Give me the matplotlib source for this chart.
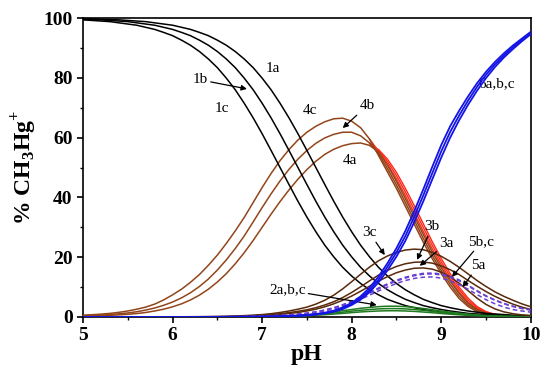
import numpy as np
import matplotlib
matplotlib.use('Agg')
import matplotlib.pyplot as plt

plt.rcParams['font.family'] = 'Liberation Serif'
plt.rcParams['mathtext.fontset'] = 'custom'
plt.rcParams['mathtext.rm'] = 'Liberation Serif'
plt.rcParams['mathtext.bf'] = 'Liberation Serif:bold'

# pH grid the curves were read at (5.0 ... 10.0, step 0.1)
ph = np.round(np.arange(5.0, 10.001, 0.1), 1)

# % values
s1a = [99.75, 99.7, 99.6, 99.5, 99.4, 99.2, 99.0, 98.8, 98.4, 98.0,
       97.6, 96.9, 96.2, 95.2, 94.1, 92.6, 90.9, 88.8, 86.3, 83.4,
       79.9, 76.0, 71.5, 66.6, 61.3, 55.7, 50.0, 44.3, 38.7, 33.4,
       28.5, 24.0, 20.1, 16.6, 13.7, 11.2, 9.1, 7.4, 5.9, 4.8,
       3.8, 3.1, 2.5, 2.0, 1.6, 1.2, 1.0, 0.8, 0.6, 0.5, 0.4]
s1b = [99.6, 99.5, 99.4, 99.2, 99.0, 98.8, 98.4, 98.0, 97.6, 96.9,
       96.2, 95.2, 94.1, 92.6, 90.9, 88.8, 86.3, 83.4, 79.9, 76.0,
       71.5, 66.6, 61.3, 55.7, 50.0, 44.3, 38.7, 33.4, 28.5, 24.0,
       20.1, 16.6, 13.7, 11.2, 9.1, 7.4, 5.9, 4.8, 3.8, 3.1,
       2.5, 2.0, 1.6, 1.2, 1.0, 0.8, 0.6, 0.5, 0.4, 0.3, 0.25]
s1c = [99.4, 99.2, 99.0, 98.8, 98.4, 98.0, 97.6, 96.9, 96.2, 95.2,
       94.1, 92.6, 90.9, 88.8, 86.3, 83.4, 79.9, 76.0, 71.5, 66.6,
       61.3, 55.7, 50.0, 44.3, 38.7, 33.4, 28.5, 24.0, 20.1, 16.6,
       13.7, 11.2, 9.1, 7.4, 5.9, 4.8, 3.8, 3.1, 2.5, 2.0,
       1.6, 1.2, 1.0, 0.8, 0.6, 0.5, 0.4, 0.3, 0.25, 0.2, 0.16]

s2a = [0, 0, 0, 0, 0, 0, 0, 0.01, 0.01, 0.01,
       0.01, 0.01, 0.01, 0.02, 0.02, 0.02, 0.03, 0.04, 0.05, 0.07,
       0.09, 0.12, 0.16, 0.23, 0.32, 0.44, 0.58, 0.75, 0.98, 1.2,
       1.45, 1.68, 1.86, 2.0, 2.08, 2.08, 2.0, 1.86, 1.65, 1.42,
       1.16, 0.93, 0.72, 0.55, 0.41, 0.29, 0.2, 0.15, 0.1, 0.07, 0.05]
s2b = [0, 0, 0, 0, 0, 0.01, 0.01, 0.01, 0.01, 0.01,
       0.01, 0.02, 0.02, 0.02, 0.02, 0.03, 0.04, 0.05, 0.07, 0.09,
       0.12, 0.16, 0.22, 0.31, 0.43, 0.58, 0.78, 1.0, 1.3, 1.6,
       1.95, 2.25, 2.5, 2.7, 2.8, 2.8, 2.7, 2.5, 2.2, 1.9,
       1.55, 1.25, 0.97, 0.74, 0.55, 0.39, 0.27, 0.2, 0.14, 0.1, 0.06]
s2c = [0, 0, 0, 0, 0, 0.01, 0.01, 0.01, 0.01, 0.02,
       0.02, 0.02, 0.02, 0.03, 0.03, 0.04, 0.05, 0.07, 0.09, 0.12,
       0.15, 0.2, 0.28, 0.4, 0.55, 0.75, 1.0, 1.3, 1.7, 2.1,
       2.5, 2.9, 3.2, 3.45, 3.6, 3.6, 3.45, 3.2, 2.85, 2.45,
       2.0, 1.6, 1.25, 0.95, 0.7, 0.5, 0.35, 0.25, 0.18, 0.12, 0.08]

s3a = [0, 0, 0, 0, 0, 0.01, 0.01, 0.02, 0.02, 0.03,
       0.03, 0.04, 0.05, 0.06, 0.07, 0.08, 0.1, 0.15, 0.22, 0.32,
       0.45, 0.62, 0.85, 1.15, 1.5, 2.0, 2.6, 3.4, 4.4, 5.6,
       7.0, 8.6, 10.3, 12.0, 13.5, 14.8, 15.7, 16.3, 16.4, 16.0,
       15.0, 13.4, 11.3, 8.8, 6.3, 4.2, 2.7, 1.7, 1.1, 0.7, 0.5]
s3b = [0, 0, 0, 0, 0.01, 0.01, 0.02, 0.02, 0.03, 0.04,
       0.05, 0.06, 0.07, 0.08, 0.09, 0.1, 0.15, 0.2, 0.3, 0.45,
       0.6, 0.8, 1.1, 1.45, 1.9, 2.4, 3.1, 4.0, 5.1, 6.5,
       8.2, 10.1, 12.1, 14.0, 15.6, 16.9, 17.8, 18.3, 18.4, 18.0,
       17.1, 15.8, 14.2, 12.2, 10.3, 8.5, 6.9, 5.5, 4.3, 3.3, 2.5]
s3c = [0, 0, 0, 0.01, 0.01, 0.02, 0.02, 0.03, 0.04, 0.05,
       0.06, 0.07, 0.08, 0.1, 0.12, 0.15, 0.2, 0.3, 0.45, 0.6,
       0.8, 1.1, 1.5, 2.0, 2.6, 3.3, 4.3, 5.6, 7.3, 9.4,
       11.8, 14.3, 16.7, 18.8, 20.4, 21.6, 22.4, 22.7, 22.5, 21.6,
       20.3, 18.6, 16.6, 14.4, 12.2, 10.2, 8.4, 6.9, 5.6, 4.4, 3.4]

s4a = [0.3, 0.36, 0.45, 0.56, 0.7, 0.9, 1.15, 1.5, 2.0, 2.6,
       3.4, 4.4, 5.7, 7.3, 9.3, 11.7, 14.5, 17.8, 21.5, 25.6,
       30.0, 34.4, 38.6, 42.5, 46.1, 49.3, 52.1, 54.4, 56.1, 57.3,
       58.0, 58.2, 57.4, 55.2, 50.7, 45.4, 39.6, 33.6, 27.6, 21.8,
       16.5, 12.0, 7.9, 4.6, 2.5, 1.3, 0.7, 0.4, 0.25, 0.15, 0.1]
s4b = [0.4, 0.5, 0.65, 0.8, 1.05, 1.35, 1.75, 2.3, 3.0, 3.9,
       5.0, 6.4, 8.1, 10.2, 12.7, 15.7, 19.1, 22.9, 27.1, 31.8,
       36.6, 41.2, 45.5, 49.4, 52.8, 55.7, 58.1, 59.9, 61.1, 61.8,
       61.8, 60.6, 58.2, 54.6, 49.6, 44.2, 38.3, 32.3, 26.3, 20.6,
       15.5, 11.0, 7.0, 4.0, 2.1, 1.1, 0.6, 0.35, 0.2, 0.12, 0.1]
s4c = [0.6, 0.75, 0.95, 1.2, 1.55, 2.0, 2.6, 3.3, 4.3, 5.7,
       7.4, 9.3, 11.6, 14.2, 17.3, 20.7, 24.6, 28.8, 33.3, 38.3,
       43.3, 48.0, 52.3, 56.0, 59.2, 61.8, 63.8, 65.3, 66.3, 66.5,
       65.5, 63.3, 59.5, 54.0, 48.5, 43.0, 37.0, 31.0, 25.0, 19.5,
       14.5, 10.0, 6.2, 3.5, 1.8, 0.9, 0.5, 0.3, 0.2, 0.1, 0.1]

# red curves on the falling side (pH 8.2 ... 10.0)
r4a = [57.4, 56.0, 52.8, 48.4, 43.0, 37.2, 31.2, 25.2, 19.6, 14.5,
       10.0, 6.3, 3.5, 1.8, 0.9, 0.5, 0.3, 0.15, 0.1]
r4b = [58.2, 55.8, 52.0, 47.3, 41.8, 35.9, 29.9, 24.0, 18.5, 13.5,
       9.2, 5.6, 3.1, 1.6, 0.8, 0.45, 0.25, 0.15, 0.1]
r4c = [59.5, 55.5, 51.2, 46.2, 40.6, 34.6, 28.6, 22.8, 17.5, 12.6,
       8.4, 5.0, 2.7, 1.4, 0.7, 0.4, 0.2, 0.15, 0.1]

s5a = [0, 0, 0, 0, 0, 0.01, 0.01, 0.01, 0.01, 0.02,
       0.02, 0.03, 0.03, 0.04, 0.04, 0.04, 0.06, 0.08, 0.12, 0.17,
       0.24, 0.33, 0.45, 0.6, 0.82, 1.1, 1.5, 2.0, 2.7, 3.6,
       4.7, 5.9, 7.3, 8.7, 10.0, 11.2, 12.2, 12.9, 13.3, 13.4,
       13.0, 12.1, 10.8, 9.3, 7.5, 5.8, 4.4, 3.3, 2.5, 2.0, 1.6]
s5b = [0, 0, 0, 0, 0, 0.01, 0.01, 0.01, 0.02, 0.02,
       0.03, 0.03, 0.04, 0.04, 0.05, 0.05, 0.07, 0.1, 0.13, 0.19,
       0.27, 0.36, 0.5, 0.67, 0.9, 1.24, 1.67, 2.25, 3.0, 3.95,
       5.1, 6.5, 7.95, 9.4, 10.8, 12.0, 13.0, 13.8, 14.3, 14.4,
       14.1, 13.3, 12.1, 10.4, 8.6, 6.95, 5.6, 4.4, 3.5, 2.8, 2.3]
s5c = [0, 0, 0, 0, 0, 0.01, 0.01, 0.01, 0.02, 0.02,
       0.03, 0.03, 0.04, 0.04, 0.05, 0.05, 0.07, 0.1, 0.14, 0.2,
       0.28, 0.38, 0.52, 0.7, 0.95, 1.3, 1.75, 2.35, 3.1, 4.1,
       5.3, 6.7, 8.2, 9.7, 11.1, 12.3, 13.3, 14.1, 14.6, 14.7,
       14.4, 13.6, 12.4, 10.6, 8.8, 7.1, 5.7, 4.5, 3.6, 2.9, 2.4]

s6a = [0, 0, 0, 0, 0, 0, 0, 0, 0, 0,
       0.01, 0.01, 0.01, 0.02, 0.02, 0.03, 0.04, 0.05, 0.06, 0.07,
       0.08, 0.11, 0.17, 0.25, 0.37, 0.55, 0.82, 1.2, 1.75, 2.65,
       4.0, 5.8, 8.3, 11.6, 15.6, 20.2, 25.5, 31.8, 38.7, 46.0,
       53.3, 60.0, 65.8, 71.0, 75.7, 79.9, 83.6, 86.8, 89.6, 92.2, 94.6]
s6b = [0, 0, 0, 0, 0, 0, 0, 0, 0, 0,
       0.01, 0.01, 0.01, 0.02, 0.02, 0.03, 0.04, 0.05, 0.06, 0.07,
       0.09, 0.13, 0.19, 0.28, 0.4, 0.6, 0.9, 1.3, 1.9, 2.9,
       4.3, 6.3, 9.0, 12.5, 16.8, 21.6, 27.1, 33.6, 40.7, 48.1,
       55.4, 61.9, 67.4, 72.4, 77.0, 81.0, 84.5, 87.5, 90.2, 92.7, 95.0]
s6c = [0, 0, 0, 0, 0, 0, 0, 0, 0, 0,
       0.01, 0.01, 0.02, 0.02, 0.03, 0.03, 0.04, 0.05, 0.07, 0.08,
       0.1, 0.15, 0.21, 0.31, 0.45, 0.66, 0.98, 1.42, 2.1, 3.2,
       4.7, 6.9, 9.8, 13.5, 18.0, 23.0, 28.8, 35.5, 42.7, 50.2,
       57.5, 63.8, 69.0, 73.8, 78.2, 82.0, 85.3, 88.2, 90.8, 93.1, 95.4]

fig = plt.figure(figsize=(5.5, 3.76), dpi=100)
ax = fig.add_axes([0.151, 0.157, 0.814, 0.795])

lw = 1.1
ph_red = ph[32:]
for s in (r4a, r4b, r4c):
    ax.plot(ph_red, s, color='#ff2a1a', lw=1.0, zorder=2)
for s in (s4a, s4b, s4c):
    ax.plot(ph, s, color='#93451a', lw=lw, zorder=3)
for s in (s1a, s1b, s1c):
    ax.plot(ph, s, color='black', lw=lw, zorder=3)
for s in (s2a, s2b, s2c):
    ax.plot(ph, s, color='#1f7a1f', lw=lw, zorder=3)
for s in (s3a, s3b, s3c):
    ax.plot(ph, s, color='#5a2a0c', lw=lw, zorder=3)
for s in (s5a, s5b, s5c):
    ax.plot(ph, s, color='#6a3fd0', lw=lw, ls=(0, (3, 2)), zorder=3)
for s in (s6a, s6b, s6c):
    ax.plot(ph, s, color='#1414e6', lw=1.3, zorder=4)

ax.set_xlim(5, 10)
ax.set_ylim(0, 100)
ax.set_xticks([5, 6, 7, 8, 9, 10])
ax.set_xticks(np.arange(5.5, 10, 1), minor=True)
ax.set_yticks([0, 20, 40, 60, 80, 100])
ax.set_yticks(np.arange(10, 100, 20), minor=True)
ax.tick_params(which='major', length=4, width=1.2, labelsize=14)
ax.tick_params(which='minor', length=2.5, width=1)
for lab in ax.get_xticklabels() + ax.get_yticklabels():
    lab.set_fontweight('bold')
for sp in ax.spines.values():
    sp.set_linewidth(1.2)

ax.set_xlabel('pH', fontsize=17, fontweight='bold', labelpad=0)
ax.set_ylabel(r'% CH$_\mathbf{3}$Hg$^\mathbf{+}$', fontsize=17, fontweight='bold', labelpad=3)

fs = 11
arr = dict(arrowstyle='-|>', color='black', lw=0.9, mutation_scale=8, shrinkA=0, shrinkB=0)
ax.text(7.12, 83.0, '1a', fontsize=fs, ha='center', va='center')
ax.annotate('1b', xy=(6.83, 76.3), xytext=(6.31, 79.3), fontsize=fs, ha='center', va='center',
            arrowprops=arr)
ax.text(6.55, 69.9, '1c', fontsize=fs, ha='center', va='center')
ax.text(7.53, 69.2, '4c', fontsize=fs, ha='center', va='center')
ax.annotate('4b', xy=(7.9, 63.2), xytext=(8.17, 70.6), fontsize=fs, ha='center', va='center',
            arrowprops=arr)
ax.text(7.98, 52.5, '4a', fontsize=fs, ha='center', va='center')
ax.text(9.62, 78.0, '6a,b,c', fontsize=fs, ha='center', va='center')
ax.annotate('3c', xy=(8.37, 20.7), xytext=(8.2, 28.1), fontsize=fs, ha='center', va='center',
            arrowprops=arr)
ax.annotate('3b', xy=(8.73, 19.1), xytext=(8.9, 30.1), fontsize=fs, ha='center', va='center',
            arrowprops=arr)
ax.annotate('3a', xy=(8.76, 17.1), xytext=(9.06, 24.7), fontsize=fs, ha='center', va='center',
            arrowprops=arr)
ax.annotate('5b,c', xy=(9.12, 13.4), xytext=(9.45, 25.1), fontsize=fs, ha='center', va='center',
            arrowprops=arr)
ax.annotate('5a', xy=(9.24, 10.0), xytext=(9.41, 17.1), fontsize=fs, ha='center', va='center',
            arrowprops=arr)
ax.annotate('2a,b,c', xy=(8.28, 4.0), xytext=(7.28, 9.0), fontsize=fs, ha='center', va='center',
            arrowprops=arr)

fig.savefig('out.png', dpi=100)
